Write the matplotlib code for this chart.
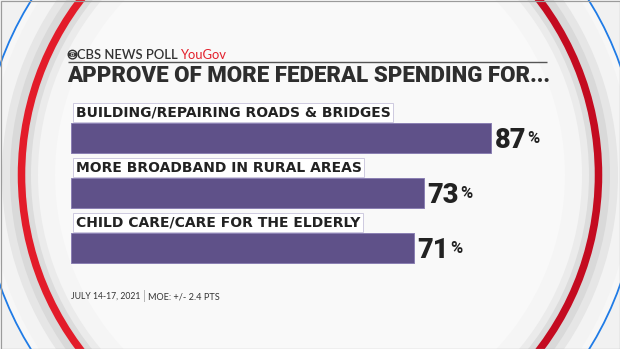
import matplotlib
matplotlib.use("Agg")
import matplotlib.pyplot as plt
from matplotlib.patches import Circle, Arc, Ellipse, Rectangle

categories = ["BUILDING/REPAIRING ROADS & BRIDGES",
              "MORE BROADBAND IN RURAL AREAS",
              "CHILD CARE/CARE FOR THE ELDERLY"]
values = [87, 73, 71]
title = "APPROVE OF MORE FEDERAL SPENDING FOR..."
header = "CBS NEWS POLL"
brand = "YouGov"
footer_date = "JULY 14-17, 2021"
footer_moe = "MOE: +/- 2.4 PTS"

W, H = 620, 349
PX = 0.72  # points per pixel at dpi 100

fig = plt.figure(figsize=(W / 100, H / 100), dpi=100)
fig.patch.set_facecolor("#f1f1f1")

# ---- background decoration (pixel coordinates) ----
bg = fig.add_axes([0, 0, 1, 1])
bg.set_xlim(0, W)
bg.set_ylim(H, 0)
bg.axis("off")
cx, cy = 310, 175
bg.add_patch(Circle((cx, cy), 329, facecolor="#f7f7f7", edgecolor="#1f7be6", lw=1.8 * PX))
bg.add_patch(Circle((cx, cy), 322, facecolor="#f3f3f3", edgecolor="none"))
bg.add_patch(Circle((cx, cy), 308, facecolor="#e6e6e6", edgecolor="none"))
bg.add_patch(Circle((cx, cy), 300, facecolor="#d9d9d9", edgecolor="none"))
bg.add_patch(Arc((cx, cy), 2 * 288.5, 2 * 288.5, theta1=90, theta2=270, color="#e31c2a", lw=7.5 * PX))
bg.add_patch(Arc((cx, cy), 2 * 288.5, 2 * 288.5, theta1=-90, theta2=90, color="#c40b20", lw=7.5 * PX))
bg.add_patch(Circle((cx, cy), 284, facecolor="#dcdcdc", edgecolor="none"))
bg.add_patch(Circle((cx, cy), 279, facecolor="#ebebeb", edgecolor="none"))
bg.add_patch(Circle((cx, cy), 272, facecolor="#f5f5f5", edgecolor="none"))
bg.add_patch(Circle((cx, cy), 255, facecolor="#f9f9f9", edgecolor="none"))
bg.add_patch(Rectangle((0.5, 0.5), W - 1, H - 1, fill=False, edgecolor="#9b9b9b", lw=1.2 * PX))

# header: CBS eye logo + text
lx, ly = 72.5, 54.6
bg.add_patch(Circle((lx, ly), 4.3, facecolor="none", edgecolor="#333333", lw=1.4 * PX))
bg.add_patch(Ellipse((lx, ly), 8.4, 4.6, facecolor="#333333", edgecolor="none"))
bg.add_patch(Circle((lx, ly), 1.7, facecolor="#f5f5f5", edgecolor="none"))
bg.add_patch(Circle((lx, ly), 1.0, facecolor="#333333", edgecolor="none"))
ht = bg.text(77, 58.8, header, fontsize=9.4, fontweight="semibold", family="Lato",
             color="#333333", va="baseline", ha="left")
bg.annotate(brand, xy=(1, 0), xycoords=ht, xytext=(1.5, 0), textcoords="offset points",
            fontsize=9.4, family="Lato", color="#e3202c", va="bottom", ha="left")
bg.plot([68, 547], [62.3, 62.3], color="#555555", lw=1.4 * PX, solid_capstyle="butt")

bg.text(67.5, 82.5, title, fontsize=16, fontweight="black", family="Roboto",
        color="#2e2e2e", va="baseline", ha="left")

# footer
bg.text(71, 299, footer_date, fontsize=6.2, family="Lato",
        color="#333333", va="baseline", ha="left")
bg.plot([144, 144], [289.5, 301], color="#b8b8b8", lw=1.0 * PX)
bg.text(147.5, 299, footer_moe, fontsize=6.6, family="Lato",
        color="#333333", va="baseline", ha="left")

# ---- bar chart ----
x0, x100 = 71, 554
step = 55
top = 138 - step / 2
ax = fig.add_axes([x0 / W, 1 - (top + 3 * step) / H, (x100 - x0) / W, 3 * step / H])
ax.set_xlim(0, 100)
ax.set_ylim(2.5, -0.5)
ax.axis("off")
ax.patch.set_alpha(0)

bar_h = 30 / step
ypos = list(range(len(categories)))
ax.barh(ypos, values, height=bar_h, color="#5f5189", edgecolor="#8b80b3", lw=1.0 * PX)

for i, (cat, v) in enumerate(zip(categories, values)):
    ax.text(1.0, i - bar_h / 2 - 10.5 / step, cat, fontsize=10.0, fontweight="bold",
            family="DejaVu Sans", color="#222222", va="center", ha="left",
            bbox=dict(boxstyle="square,pad=0.17", facecolor="white",
                      edgecolor="#cfcbe0", lw=1.0 * PX))
    nt = ax.text(v + 0.7, i + 0.04, f"{v}", fontsize=19.5, fontweight="black",
                 family="Roboto", color="#222222", va="center", ha="left")
    ax.annotate("%", xy=(1, 0.84), xycoords=nt, xytext=(1.0, 0), textcoords="offset points",
                fontsize=12, fontweight="bold", family="Roboto", color="#222222",
                va="top", ha="left")

fig.savefig("out.png", dpi=100, facecolor=fig.get_facecolor())
